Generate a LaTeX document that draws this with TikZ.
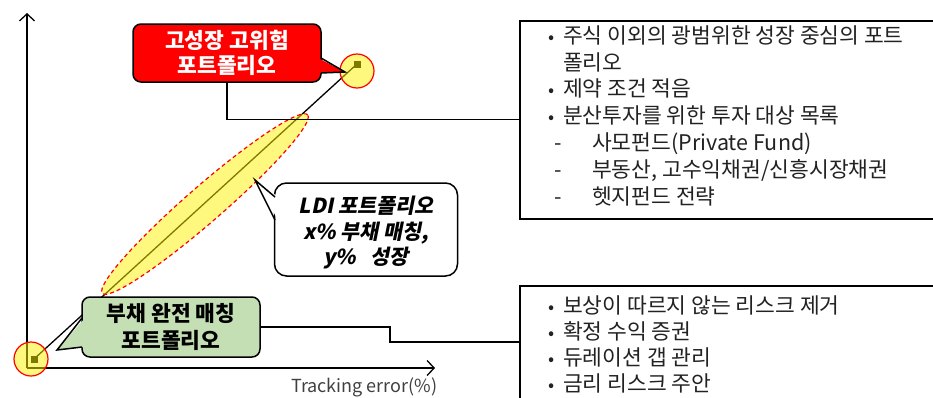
\documentclass[tikz,border=0pt]{standalone}
\usepackage{fontspec}
\setmainfont{Noto Sans CJK KR}
\newfontfamily\slantfont{Noto Sans CJK KR}[FakeSlant=0.2]
\usetikzlibrary{shapes.geometric,arrows.meta}
\definecolor{callred}{HTML}{FF0000}
\definecolor{callgreen}{HTML}{C4DFB4}
\definecolor{txtgray}{HTML}{222222}
\begin{document}
\begin{tikzpicture}[x=1pt,y=-1pt,
  callout/.style={draw=black, line width=1.5pt, rounded corners=8pt, inner sep=0pt},
  tail/.style={draw=black, line width=1.5pt, line join=miter},
  infobox/.style={draw=black, line width=1.5pt, inner sep=0pt, anchor=north west},
  boxtext/.style={anchor=base west, inner sep=0pt, font=\fontsize{21.5}{24}\selectfont, text=txtgray},
  bulletmark/.style={anchor=base west, inner sep=0pt, font=\fontsize{18}{20}\selectfont, text=txtgray},
  hl/.style={draw=red, line width=1.2pt, fill=yellow, fill opacity=0.5},
  conn/.style={line width=1.3pt},
  axis/.style={line width=1.3pt, -{Straight Barb[length=7pt,width=15pt]}},
  pt/.style={fill=black, minimum size=7pt, inner sep=0pt}]
\useasboundingbox (0,0) rectangle (933,397);
\clip (0,0) rectangle (933,397);
% axes
\coordinate (O) at (27,368);
\coordinate (Ytop) at (27,13);
\coordinate (Xend) at (435,368);
\draw[axis] (O) -- (Ytop);
\draw[axis] (O) -- (Xend);
\node[anchor=base west, inner sep=0pt, font=\fontsize{18}{20}\selectfont, text=black!75] (xlab) at (291,392) {Tracking error(\%)};
% points and frontier line
\node[pt] (sqlo) at (34,359) {};
\node[pt] (sqhi) at (357,64) {};
\draw[conn] (sqlo.center) -- (sqhi.center);
% highlights
\node[ellipse, hl, dash pattern=on 4pt off 3pt, minimum width=272pt, minimum height=36pt, rotate=41] (ldiell) at (205,204) {};
\node[circle, hl, minimum size=34pt, inner sep=0pt] (chi) at (357,71) {};
\node[circle, hl, minimum size=34pt, inner sep=0pt] (clo) at (31,359) {};
% info boxes
\node[infobox, minimum width=430pt, minimum height=198pt] (box1) at (519,20) {};
\node[infobox, minimum width=430pt, minimum height=130pt] (box2) at (519,285) {};
% red callout
\node[callout, fill=callred, minimum width=188pt, minimum height=58pt, text=white, font=\bfseries\fontsize{21.5}{25}\selectfont, align=center] (hi) at (227,53) {고성장 고위험\\포트폴리오};
\fill[callred] (318,58) -- (345,72) -- (318,73) -- cycle;
\draw[tail] (321,58) -- (345,72) -- (321,73);
\draw[conn] (hi.south) |- (box1.west);
% green callout
\node[callout, fill=callgreen, minimum width=178pt, minimum height=60pt, font=\bfseries\fontsize{21.5}{27}\selectfont, align=center] (lo) at (171,327) {부채 완전 매칭\\포트폴리오};
\fill[callgreen] (85,318) -- (57,350) -- (85,347) -- cycle;
\draw[tail] (82,318) -- (57,350) -- (82,347);
\coordinate (k1) at (390,342);
\draw[conn] (lo.east) -| (k1) -- (k1 -| box2.west);
% LDI callout
\node[callout, fill=white, rounded corners=12pt, minimum width=183pt, minimum height=93pt] (ldic) at (366,229.5) {};
\node[inner sep=0pt, font=\slantfont\bfseries\fontsize{20.7}{25.5}\selectfont, align=center] (ldit) at (366,233) {LDI 포트폴리오\\x\% 부채 매칭,\\y\%\ \ \ 성장};
\fill[white] (278,197) -- (255,180) -- (278,220) -- cycle;
\draw[tail] (275,197) -- (255,180) -- (275,220);
% box 1 text
\foreach \yy/\tx [count=\i] in {43/{주식 이외의 광범위한 성장 중심의 포트}, 96/{제약 조건 적음}, 123/{분산투자를 위한 투자 대상 목록}}{
  \node[bulletmark] (b1m\i) at (548,\yy) {•};
  \node[boxtext] (b1t\i) at (563,\yy) {\tx};
}
\node[boxtext] (b1cont) at (563,70) {폴리오};
\foreach \yy/\tx [count=\i] in {150/{사모펀드(Private Fund)}, 177/{부동산, 고수익채권/신흥시장채권}, 204/{헷지펀드 전략}}{
  \node[boxtext] (b1d\i) at (554,\yy) {-};
  \node[boxtext] (b1s\i) at (592,\yy) {\tx};
}
% box 2 text
\foreach \yy/\tx [count=\i] in {313/{보상이 따르지 않는 리스크 제거}, 339/{확정 수익 증권}, 365/{듀레이션 갭 관리}, 391/{금리 리스크 주안}}{
  \node[bulletmark] (b2m\i) at (548,\yy) {•};
  \node[boxtext] (b2t\i) at (563,\yy) {\tx};
}
\end{tikzpicture}
\end{document}
